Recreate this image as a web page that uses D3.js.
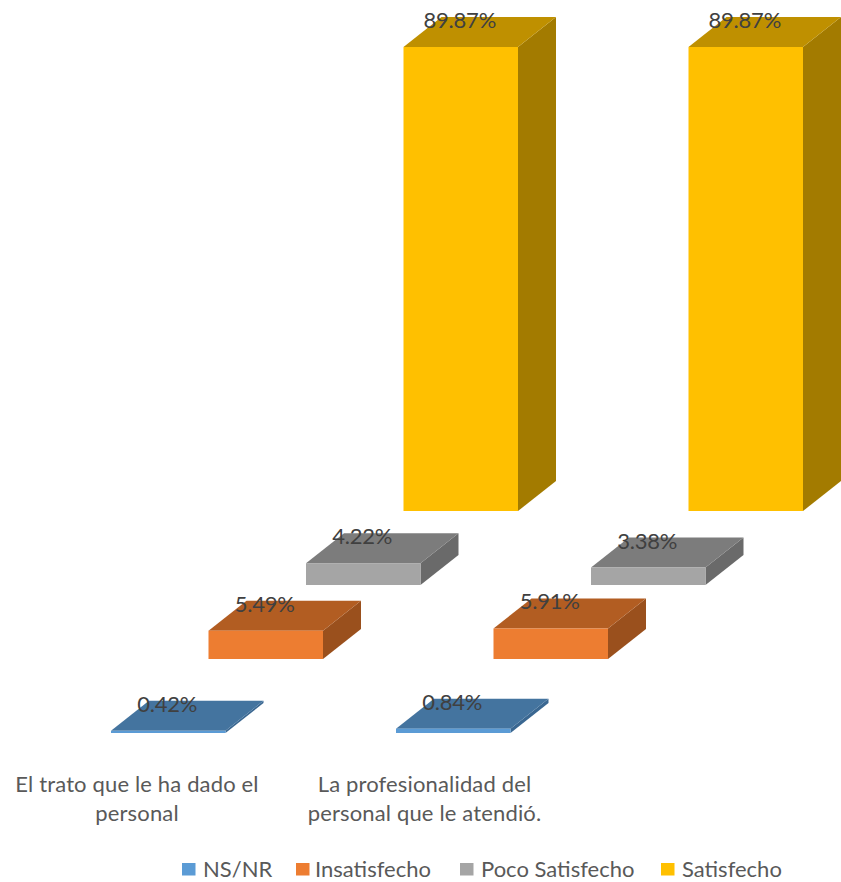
<!DOCTYPE html>
<html lang="es">
<head>
<meta charset="utf-8">
<title>Satisfacción con el personal</title>
<script src="https://cdn.jsdelivr.net/npm/d3@7"></script>
<style>
  html, body { margin: 0; padding: 0; background: #fff; }
  svg { display: block; }
  text { font-family: Lato, "Open Sans", sans-serif; }
</style>
</head>
<body>
<div id="chart"></div>
<script>
// Survey results: share of answers per satisfaction level
const categories = [
  ["El trato que le ha dado el", "personal"],
  ["La profesionalidad del", "personal que le atendió."]
];
const seriesNames = ["NS/NR", "Insatisfecho", "Poco Satisfecho", "Satisfecho"];
const nsnr = [0.42, 0.84];
const insatisfecho = [5.49, 5.91];
const pocoSatisfecho = [4.22, 3.38];
const satisfecho = [89.87, 89.87];
const seriesValues = [nsnr, insatisfecho, pocoSatisfecho, satisfecho];

// Face colours per series: front, top, side
const frontColors = ["#5b9bd5", "#ed7d31", "#a5a5a5", "#ffc000"];
const topColors = ["#44749f", "#b25d22", "#7c7c7c", "#bf9000"];
const sideColors = ["#3a6791", "#9a501d", "#6a6a6a", "#a37b00"];
const legendSwatchX = [182, 296, 460, 661];
const legendTextX = [203, 315, 481, 682];

const width = 841, height = 882;
const barWidth = 114.5, depthX = 38, depthY = 30;

const svg = d3.select("#chart").append("svg")
  .attr("width", width)
  .attr("height", height);

// Each series steps right and up along the depth axis of the 3-D floor
const groupX = d3.scaleBand().domain(d3.range(categories.length)).range([111, 681]);
const seriesX = d3.scalePoint().domain(seriesNames).range([0, 292.5]);
const baseY = d3.scalePoint().domain(seriesNames).range([733, 511]);
const barHeight = d3.scaleLinear().domain([0, 89.87]).range([0, 464]);

const poly = pts => d3.line()(pts) + "Z";

const bars = seriesNames.flatMap((name, s) =>
  categories.map((_, c) => {
    const value = seriesValues[s][c];
    const x0 = groupX(c) + seriesX(name);
    const x1 = x0 + barWidth;
    const y1 = baseY(name);
    const y0 = y1 - barHeight(value);
    return { s, c, value, x0, x1, y0, y1 };
  })
);

const bar = svg.append("g").selectAll("g").data(bars).join("g");

bar.append("path")
  .attr("d", d => poly([[d.x1, d.y0], [d.x1 + depthX, d.y0 - depthY], [d.x1 + depthX, d.y1 - depthY], [d.x1, d.y1]]))
  .attr("fill", d => sideColors[d.s]);

bar.append("path")
  .attr("d", d => poly([[d.x0, d.y0], [d.x0 + depthX, d.y0 - depthY], [d.x1 + depthX, d.y0 - depthY], [d.x1, d.y0]]))
  .attr("fill", d => topColors[d.s]);

bar.append("rect")
  .attr("x", d => d.x0)
  .attr("y", d => d.y0)
  .attr("width", barWidth)
  .attr("height", d => d.y1 - d.y0)
  .attr("fill", d => frontColors[d.s]);

// Value labels sit on the back edge of each top face
svg.append("g").selectAll("text").data(bars).join("text")
  .attr("x", d => (d.x0 + d.x1) / 2 - 1)
  .attr("y", d => d.y0 - depthY + 11)
  .attr("text-anchor", "middle")
  .attr("font-size", 22)
  .attr("letter-spacing", -0.2)
  .attr("fill", "#404040")
  .text(d => d.value.toFixed(2) + "%");

// Category labels, two lines each
const catCenter = d3.scaleLinear().domain([0, 1]).range([137, 424.5]);
const catLabel = svg.append("g").selectAll("text").data(categories).join("text")
  .attr("text-anchor", "middle")
  .attr("font-size", 22)
  .attr("letter-spacing", 0.15)
  .attr("fill", "#595959");
catLabel.selectAll("tspan").data((d, i) => d.map(line => ({ line, i }))).join("tspan")
  .attr("x", d => catCenter(d.i))
  .attr("y", (d, j) => 792 + j * 29)
  .text(d => d.line);

// Legend
const legend = svg.append("g").selectAll("g").data(seriesNames).join("g");
legend.append("rect")
  .attr("x", (d, i) => legendSwatchX[i])
  .attr("y", 863)
  .attr("width", 13.5)
  .attr("height", 12.5)
  .attr("fill", (d, i) => frontColors[i]);
legend.append("text")
  .attr("x", (d, i) => legendTextX[i])
  .attr("y", 877)
  .attr("font-size", 22)
  .attr("fill", "#595959")
  .text(d => d);
</script>
</body>
</html>
